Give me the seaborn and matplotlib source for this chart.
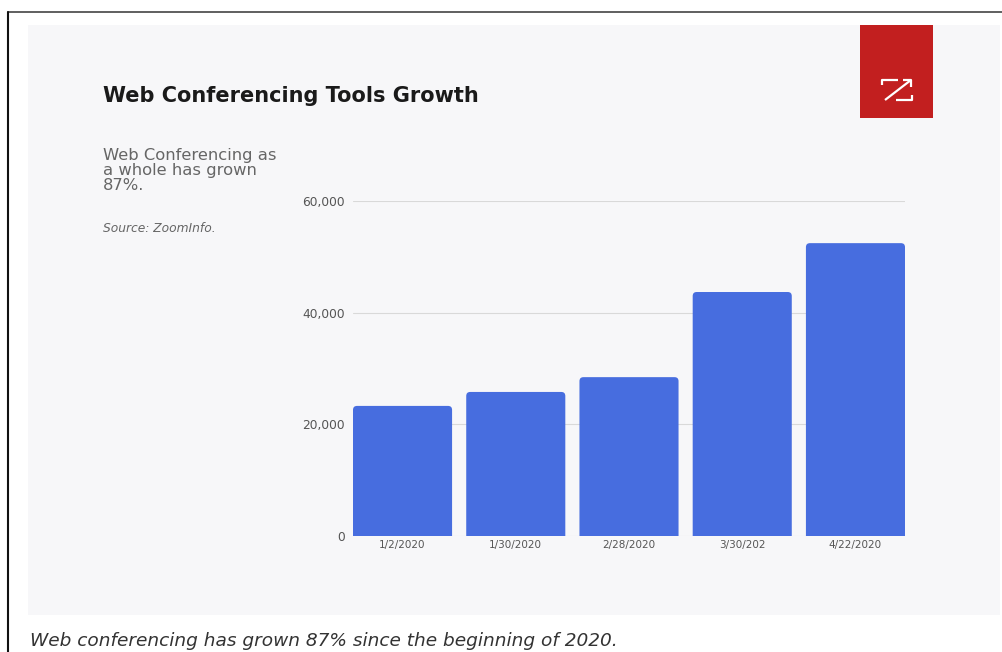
import matplotlib
matplotlib.use("Agg")
import matplotlib.pyplot as plt
import matplotlib.patches as mpatches
from matplotlib.lines import Line2D
from matplotlib.ticker import FuncFormatter
import seaborn as sns
import pandas as pd

dates = ["1/2/2020", "1/30/2020", "2/28/2020", "3/30/202", "4/22/2020"]
tools = [23300, 25800, 28450, 43700, 52450]
yticks = [0, 20000, 40000, 60000]

title = "Web Conferencing Tools Growth"
subtitle = "Web Conferencing as\na whole has grown\n87%."
source = "Source: ZoomInfo."
caption = "Web conferencing has grown 87% since the beginning of 2020."

sns.set_theme(style="white")
plt.rcParams['font.family'] = ['DejaVu Sans']

W, H = 1003, 652
fig = plt.figure(figsize=(W / 100, H / 100), dpi=100)
fig.patch.set_facecolor("white")

def fx(x):
    return x / W

def fy(y):
    return 1 - y / H

# light panel
fig.patches.append(mpatches.Rectangle((fx(28), fy(615)), fx(1000) - fx(28), fy(25) - fy(615),
                                      transform=fig.transFigure, facecolor="#f7f7f9",
                                      edgecolor="none", zorder=-2))
# border lines
fig.add_artist(Line2D([fx(8), 1], [fy(12), fy(12)], transform=fig.transFigure, color="#444444", lw=1.2))
fig.add_artist(Line2D([fx(8), fx(8)], [fy(12), 0], transform=fig.transFigure, color="#111111", lw=1.5))

# logo
fig.patches.append(mpatches.Rectangle((fx(860), fy(118)), fx(933) - fx(860), fy(25) - fy(118),
                                      transform=fig.transFigure, facecolor="#c21f1f",
                                      edgecolor="none", zorder=1))
logo_strokes = [
    [(882, 85), (882, 80), (898, 80)],
    [(896, 100), (912, 100), (912, 95)],
    [(885, 100), (911, 80)],
    [(903, 80), (911, 80), (911, 87)],
]
for stroke in logo_strokes:
    xs = [fx(p[0]) for p in stroke]
    ys = [fy(p[1]) for p in stroke]
    fig.add_artist(Line2D(xs, ys, transform=fig.transFigure, color="white", lw=1.6,
                          solid_capstyle="butt", zorder=2))

# texts
fig.text(fx(103), fy(96), title, fontsize=15, fontweight="bold", color="#1a1a1a",
         ha="left", va="center")
fig.text(fx(103), fy(148), subtitle, fontsize=11.8, color="#666666", ha="left", va="top",
         linespacing=1.0)
fig.text(fx(103), fy(228), source, fontsize=8.8, color="#666666", style="italic",
         ha="left", va="center")
fig.text(fx(30), fy(641), caption, fontsize=13.3, color="#333333", style="italic",
         ha="left", va="center")

ax = fig.add_axes([fx(353), fy(536), fx(905) - fx(353), fy(201) - fy(536)])
ax.set_facecolor("none")
df = pd.DataFrame({"date": dates, "tools": tools})
bw = 0.875
sns.barplot(data=df, x="date", y="tools", color="#476ddf", saturation=1, width=bw,
            ax=ax, zorder=3)
ax.set_ylim(0, 60000)
ax.set_xlim(-bw / 2, len(dates) - 1 + bw / 2)

# rounded bar tops
xpp = (len(dates) - 1 + bw) / 552.0
ypp = 60000 / 335.0
r = 4
for p in list(ax.patches):
    x0, y0, w, h = p.get_x(), p.get_y(), p.get_width(), p.get_height()
    fc = p.get_facecolor()
    p.remove()
    fb = mpatches.FancyBboxPatch((x0, y0 - r * ypp), w, h + r * ypp,
                                 boxstyle=f"round,pad=0,rounding_size={r * xpp}",
                                 mutation_aspect=ypp / xpp, facecolor=fc,
                                 edgecolor="none", zorder=3, clip_on=True)
    ax.add_patch(fb)

ax.set_yticks(yticks)
ax.yaxis.set_major_formatter(FuncFormatter(lambda v, p: f"{int(v):,}"))
ax.grid(axis="y", color="#d9d9d9", lw=0.8, zorder=0)
ax.set_axisbelow(True)
for s in ax.spines.values():
    s.set_visible(False)
ax.set_xlabel("")
ax.set_ylabel("")
ax.tick_params(axis="y", length=0, pad=6, labelsize=8.8, labelcolor="#555555")
ax.tick_params(axis="x", length=0, pad=3, labelsize=7.5, labelcolor="#555555")

fig.savefig("out.png", dpi=100, facecolor="white")
